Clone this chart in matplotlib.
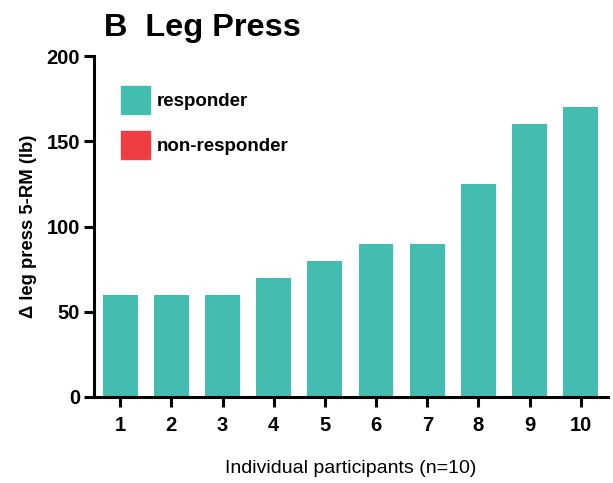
import matplotlib.pyplot as plt
from matplotlib.patches import Patch

# data
participants = [1, 2, 3, 4, 5, 6, 7, 8, 9, 10]
delta_leg_press = [60, 60, 60, 70, 80, 90, 90, 125, 160, 170]
is_responder = [True, True, True, True, True, True, True, True, True, True]

teal = "#42BDB0"
red = "#EF3E42"

plt.rcParams["font.family"] = ["Liberation Sans", "DejaVu Sans"]

fig = plt.figure(figsize=(6.13, 4.83), dpi=100)
ax = fig.add_axes([94 / 613, 1 - 397 / 483, (608 - 94) / 613, (397 - 56) / 483])

bar_colors = [teal if r else red for r in is_responder]
ax.bar(participants, delta_leg_press, width=0.68, color=bar_colors)

ax.set_xlim(0.49, 10.53)
ax.set_ylim(0, 200)
ax.set_yticks([0, 50, 100, 150, 200])
ax.set_xticks(participants)

# axis styling
for side in ["top", "right"]:
    ax.spines[side].set_visible(False)
for side in ["left", "bottom"]:
    ax.spines[side].set_linewidth(2.2)
ax.tick_params(axis="both", width=2.2, length=7, labelsize=14.5)
ax.tick_params(axis="y", pad=3)
ax.tick_params(axis="x", pad=6.5)
for lbl in ax.get_xticklabels() + ax.get_yticklabels():
    lbl.set_fontweight("bold")

ax.set_ylabel("\u0394 leg press 5-RM (lb)", fontsize=13.3, fontweight="bold", labelpad=7)
ax.set_xlabel("Individual participants (n=10)", fontsize=14, labelpad=18)

fig.text(104 / 613, 1 - 28 / 483, "B  Leg Press", fontsize=23.4, fontweight="bold",
         va="center", ha="left")

# legend
handles = [Patch(color=teal, label="responder"), Patch(color=red, label="non-responder")]
ax.legend(handles=handles, loc="upper left", bbox_to_anchor=(121 / 613, 1 - 86 / 483),
          bbox_transform=fig.transFigure, frameon=False, borderpad=0, borderaxespad=0,
          handlelength=1.55, handleheight=1.95, handletextpad=0.37, labelspacing=0.88,
          prop={"size": 13.5, "weight": "bold"})

plt.savefig("out.png", dpi=100)
plt.close()
